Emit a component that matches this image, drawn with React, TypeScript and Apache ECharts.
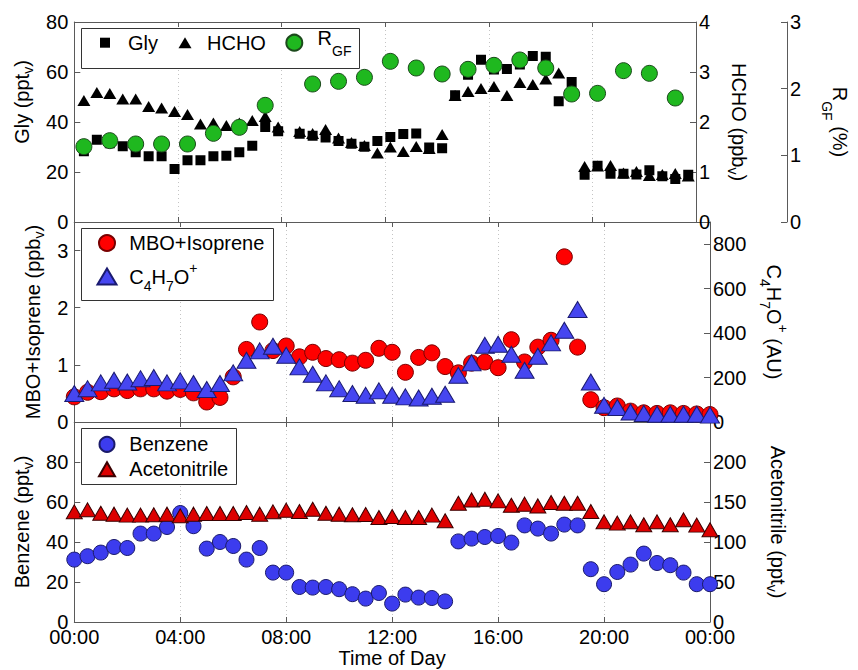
import React, { useEffect, useRef } from 'react';
import * as echarts from 'echarts';

// ---------- data ----------
const xTickHours = [0, 4, 8, 12, 16, 20, 24];

// top panel (Gly squares, HCHO triangles)
const topTimes = [0.37, 0.87, 1.37, 1.87, 2.37, 2.87, 3.37, 3.87, 4.37, 4.87, 5.37, 5.87, 6.37, 6.87, 7.37, 7.87,
  8.7, 9.2, 9.7, 10.2, 10.7, 11.2, 11.7, 12.2, 12.7, 13.2, 13.7, 14.2, 14.7, 15.2, 15.7, 16.2, 16.7, 17.2, 17.7,
  18.2, 18.7, 19.2, 19.7, 20.2, 20.7, 21.2, 21.7, 22.2, 22.7, 23.2, 23.7];
const glyPpt = [28.3, 32.9, 31.5, 30.3, 27.9, 26.3, 26.3, 21.2, 24.7, 24.7, 26.3, 26.5, 27.9, 30.5, 38.0, 36.3,
  35.3, 34.5, 33.8, 32.4, 31.3, 30.1, 32.4, 34.0, 35.2, 35.4, 29.8, 29.5, 50.7, 58.9, 64.9, 61.0, 61.2, 63.0, 66.4,
  66.1, 48.3, 56.0, 18.9, 22.5, 19.3, 19.3, 19.0, 20.7, 18.3, 17.2, 18.9];
const hchoPpb = [2.43, 2.59, 2.57, 2.46, 2.46, 2.31, 2.28, 2.21, 2.15, 1.96, 1.98, 1.93, 1.98, 2.03, 2.11, 1.90,
  1.81, 1.77, 1.85, 1.68, 1.59, 1.53, 1.38, 1.50, 1.41, 1.51, 1.47, 1.75, 2.53, 2.61, 2.67, 2.71, 2.53, 2.79, 2.75,
  2.86, 2.98, 2.62, 1.11, 1.12, 1.13, 0.98, 1.01, 0.93, 0.95, 0.97, 0.92];

// R_GF circles
const rgfTimes = [0.37, 1.37, 2.37, 3.37, 4.37, 5.37, 6.37, 7.37, 9.2, 10.2, 11.2, 12.2, 13.2, 14.2, 15.2, 16.2,
  17.2, 18.2, 19.2, 20.2, 21.2, 22.2, 23.2];
const rgfPct = [1.13, 1.22, 1.17, 1.17, 1.17, 1.33, 1.42, 1.75, 2.07, 2.11, 2.17, 2.41, 2.31, 2.22, 2.29, 2.35,
  2.43, 2.31, 1.92, 1.93, 2.27, 2.23, 1.86];

// middle and bottom panels
const halfHourTimes = [0, 0.5, 1, 1.5, 2, 2.5, 3, 3.5, 4, 4.5, 5, 5.5, 6, 6.5, 7, 7.5, 8, 8.5, 9, 9.5, 10, 10.5,
  11, 11.5, 12, 12.5, 13, 13.5, 14, 14.5, 15, 15.5, 16, 16.5, 17, 17.5, 18, 18.5, 19, 19.5, 20, 20.5, 21, 21.5,
  22, 22.5, 23, 23.5, 24];
const mboIsoprenePpb = [0.44, 0.52, 0.53, 0.58, 0.55, 0.58, 0.58, 0.54, 0.57, 0.51, 0.35, 0.43, 0.79, 1.27, 1.75,
  1.25, 1.33, 1.14, 1.22, 1.11, 1.09, 1.03, 1.08, 1.29, 1.22, 0.87, 1.13, 1.21, 0.97, 0.86, 1.03, 1.05, 0.95, 1.44,
  1.05, 1.31, 1.43, 2.89, 1.31, 0.39, 0.25, 0.28, 0.19, 0.16, 0.15, 0.16, 0.15, 0.14, 0.13];
const c4h7oAU = [128, 150, 176, 188, 180, 195, 200, 176, 185, 173, 146, 173, 221, 278, 320, 341, 300, 248, 215,
  176, 150, 128, 120, 140, 120, 113, 108, 116, 125, 210, 266, 345, 350, 305, 233, 296, 356, 413, 506, 180, 75, 65,
  45, 38, 35, 35, 35, 35, 31];
const benzenePpt = [31.2, 32.9, 34.7, 37.5, 37.0, 44.2, 44.2, 47.5, 54.5, 47.9, 36.7, 40.0, 38.0, 31.2, 37.0,
  24.7, 24.7, 17.5, 17.2, 17.5, 16.4, 13.9, 11.7, 14.5, 9.2, 13.7, 12.2, 12.0, 10.3, 40.3, 41.7, 42.5, 43.0, 39.7,
  48.3, 46.7, 44.2, 48.7, 48.3, 26.4, 18.9, 25.0, 28.7, 34.2, 29.5, 28.4, 24.7, 18.9, 18.9];
const acetonitrilePpt = [137.7, 140.2, 136.0, 134.8, 133.6, 133.6, 134.0, 134.8, 132.7, 134.8, 135.6, 135.6,
  135.6, 136.8, 134.8, 137.7, 139.8, 138.1, 141.0, 136.0, 134.8, 134.0, 134.4, 130.6, 131.8, 130.6, 130.6, 133.6,
  126.5, 148.5, 152.6, 153.4, 151.4, 146.0, 147.3, 145.1, 149.3, 148.5, 148.5, 138.1, 125.2, 123.6, 125.2, 121.5,
  125.2, 121.5, 127.7, 121.1, 115.3];

// ---------- styling ----------
const FONT = '"Liberation Sans", Arial, Helvetica, sans-serif';
const AX = '#5a5a5a';
const TXT = '#000';
const GRID_LEFT = 74.3;
const GRID_RIGHT = 148;
const PANEL_H = 200;
const PANEL_TOPS = [22, 222, 422];

const base = { fontFamily: FONT, color: TXT };
const subRich = {
  a: { ...base, fontSize: 20, height: 20, lineHeight: 26, verticalAlign: 'middle' },
  s: { ...base, fontSize: 14, height: 14, lineHeight: 14, verticalAlign: 'bottom' },
};
const rgfRich = {
  a: { ...base, fontSize: 20, height: 20, lineHeight: 30, verticalAlign: 'top' },
  s: { ...base, fontSize: 14, height: 14, lineHeight: 14, verticalAlign: 'bottom' },
};
const ionRich = {
  a: { ...base, fontSize: 20, height: 20, lineHeight: 32, verticalAlign: 'middle' },
  s: { ...base, fontSize: 14, height: 14, lineHeight: 14, verticalAlign: 'bottom' },
  p: { ...base, fontSize: 14, height: 14, lineHeight: 14, verticalAlign: 'top' },
};

const pair = (xs: number[], ys: number[]) => xs.map((x, i) => [x, ys[i]]);
const hourLabel = (v: number) => {
  const h = v % 24;
  return (h < 10 ? '0' : '') + h + ':00';
};

function makeXAxes(gi: number) {
  const isBottomPanel = gi === 2;
  const common = {
    type: 'value',
    gridIndex: gi,
    min: xTickHours[0],
    max: xTickHours[xTickHours.length - 1],
    interval: xTickHours[1] - xTickHours[0],
    axisLine: { show: true, onZero: false, lineStyle: { color: AX, width: 1 } },
    axisTick: { show: true, inside: true, length: 5, lineStyle: { color: AX } },
  };
  return [
    {
      ...common,
      position: 'bottom',
      axisLabel: {
        show: isBottomPanel,
        formatter: hourLabel,
        margin: 5,
        fontSize: 20,
        fontFamily: FONT,
        color: TXT,
      },
      splitLine: { show: true, lineStyle: { type: [1, 3], color: '#c4c4c4', width: 1 } },
      name: isBottomPanel ? 'Time of Day' : '',
      nameLocation: 'middle',
      nameGap: 25,
      nameTextStyle: { fontSize: 20, fontFamily: FONT, color: TXT },
    },
    {
      ...common,
      position: 'top',
      axisLabel: { show: false },
      splitLine: { show: false },
    },
  ];
}

function makeYAxis(o: any) {
  const right = o.position === 'right';
  return {
    type: 'value',
    gridIndex: o.gridIndex,
    position: o.position,
    offset: o.offset || 0,
    min: o.min,
    max: o.max,
    interval: o.interval,
    axisLine: { show: true, onZero: false, lineStyle: { color: AX, width: 1 } },
    axisTick: { show: true, inside: true, length: 6, lineStyle: { color: AX } },
    splitLine: { show: false },
    axisLabel: {
      margin: right ? 3 : 6,
      fontSize: 20,
      fontFamily: FONT,
      color: TXT,
      formatter: (v: number) => (o.hideMax && v >= o.max ? '' : String(v)),
    },
    name: o.name,
    nameLocation: 'middle',
    nameGap: o.nameGap,
    nameRotate: right ? -90 : 90,
    nameTextStyle: { fontSize: 20, fontFamily: FONT, color: TXT, rich: o.rich, padding: o.namePadding || 0 },
  };
}

// left = left edge of the drawn icon (legend layout aligns the content's bounding box)
function legendItem(o: any) {
  return {
    show: true,
    selectedMode: false,
    orient: 'horizontal',
    left: o.left,
    top: o.top,
    padding: 0,
    itemWidth: o.w,
    itemHeight: o.h,
    data: [{ name: o.name, icon: o.icon }],
    formatter: o.formatter,
    textStyle: { fontSize: 20, fontFamily: FONT, color: TXT, rich: o.rich },
    z: 5,
  };
}

export default function App() {
  const ref = useRef<HTMLDivElement>(null);

  useEffect(() => {
    if (!ref.current) return;
    const chart = echarts.init(ref.current, undefined, { renderer: 'svg' });

    const option: any = {
      animation: false,
      backgroundColor: '#fff',
      grid: PANEL_TOPS.map((t) => ({ left: GRID_LEFT, right: GRID_RIGHT, top: t, height: PANEL_H })),
      xAxis: [...makeXAxes(0), ...makeXAxes(1), ...makeXAxes(2)],
      yAxis: [
        makeYAxis({ gridIndex: 0, position: 'left', min: 0, max: 80, interval: 20, name: '{a|Gly (ppt}{s|v}{a|)}', nameGap: 39, rich: subRich, namePadding: [0, 0, 0, 40] }),
        makeYAxis({ gridIndex: 0, position: 'right', min: 0, max: 4, interval: 1, name: '{a|HCHO (ppb}{s|v}{a|)}', nameGap: 30, rich: subRich }),
        makeYAxis({ gridIndex: 0, position: 'right', offset: 91, min: 0, max: 3, interval: 1, name: '{a|R}{s|GF}{a| (%)}', nameGap: 33, rich: rgfRich }),
        makeYAxis({ gridIndex: 1, position: 'left', min: 0, max: 3.5, interval: 1, hideMax: true, name: '{a|MBO+Isoprene (ppb}{s|v}{a|)}', nameGap: 27, rich: subRich }),
        makeYAxis({ gridIndex: 1, position: 'right', min: 0, max: 900, interval: 200, hideMax: true, name: '{a|C}{s|4}{a|H}{s|7}{a|O}{p|+}{a| (AU)}', nameGap: 48, rich: ionRich }),
        makeYAxis({ gridIndex: 2, position: 'left', min: 0, max: 100, interval: 20, hideMax: true, name: '{a|Benzene (ppt}{s|v}{a|)}', nameGap: 38, rich: subRich }),
        makeYAxis({ gridIndex: 2, position: 'right', min: 0, max: 250, interval: 50, hideMax: true, name: '{a|Acetonitrile (ppt}{s|v}{a|)}', nameGap: 55, rich: subRich }),
      ],
      legend: [
        legendItem({ name: 'Gly', icon: 'path://M0,0H10V10H0Z', left: 100, top: 32.7, w: 36, h: 10 }),
        legendItem({ name: 'HCHO', icon: 'path://M6.5,0L13,11H0Z', left: 178.5, top: 32.7, w: 34, h: 11 }),
        legendItem({ name: 'RGF', icon: 'circle', left: 285.3, top: 27.7, w: 36.6, h: 16, formatter: () => '{a|R}{s|GF}', rich: rgfRich }),
        legendItem({ name: 'MBO+Isoprene', icon: 'circle', left: 98, top: 233, w: 34.6, h: 16 }),
        legendItem({ name: 'C4H7O+', icon: 'path://M9.5,0L19,16H0Z', left: 96.5, top: 260.5, w: 34.6, h: 16, formatter: () => '{a|C}{s|4}{a|H}{s|7}{a|O}{p|+}', rich: ionRich }),
        legendItem({ name: 'Benzene', icon: 'circle', left: 98.5, top: 434.3, w: 34.6, h: 15 }),
        legendItem({ name: 'Acetonitrile', icon: 'path://M8,0L16,14H0Z', left: 98, top: 459.3, w: 34.6, h: 14 }),
      ],
      graphic: [
        { type: 'rect', z: 3, shape: { x: 81.5, y: 28.5, width: 278, height: 40 }, style: { fill: '#fff', stroke: '#333', lineWidth: 1 } },
        { type: 'rect', z: 3, shape: { x: 81.5, y: 228.5, width: 192, height: 72 }, style: { fill: '#fff', stroke: '#333', lineWidth: 1 } },
        { type: 'rect', z: 3, shape: { x: 81.5, y: 428.5, width: 155, height: 56 }, style: { fill: '#fff', stroke: '#333', lineWidth: 1 } },
      ],
      series: [
        {
          name: 'Gly', type: 'scatter', xAxisIndex: 0, yAxisIndex: 0, clip: false,
          data: pair(topTimes, glyPpt), symbol: 'rect', symbolSize: 10,
          itemStyle: { color: '#000', opacity: 1 },
        },
        {
          name: 'HCHO', type: 'scatter', xAxisIndex: 0, yAxisIndex: 1, clip: false,
          data: pair(topTimes, hchoPpb), symbol: 'triangle', symbolSize: [13, 11],
          itemStyle: { color: '#000', opacity: 1 },
        },
        {
          name: 'RGF', type: 'scatter', xAxisIndex: 0, yAxisIndex: 2, clip: false,
          data: pair(rgfTimes, rgfPct), symbol: 'circle', symbolSize: 16,
          itemStyle: { color: '#1fb81f', borderColor: '#1c4a1c', borderWidth: 1, opacity: 1 },
        },
        {
          name: 'MBO+Isoprene', type: 'scatter', xAxisIndex: 2, yAxisIndex: 3, clip: false,
          data: pair(halfHourTimes, mboIsoprenePpb), symbol: 'circle', symbolSize: 16,
          itemStyle: { color: '#ff0000', borderColor: '#7a0000', borderWidth: 1, opacity: 1 },
        },
        {
          name: 'C4H7O+', type: 'scatter', xAxisIndex: 2, yAxisIndex: 4, clip: false,
          data: pair(halfHourTimes, c4h7oAU), symbol: 'triangle', symbolSize: [19, 16],
          itemStyle: { color: '#4646f0', borderColor: '#1a1a70', borderWidth: 1, opacity: 1 },
        },
        {
          name: 'Benzene', type: 'scatter', xAxisIndex: 4, yAxisIndex: 5, clip: false,
          data: pair(halfHourTimes, benzenePpt), symbol: 'circle', symbolSize: 15,
          itemStyle: { color: '#3c3cee', borderColor: '#1a1a6a', borderWidth: 1, opacity: 1 },
        },
        {
          name: 'Acetonitrile', type: 'scatter', xAxisIndex: 4, yAxisIndex: 6, clip: false,
          data: pair(halfHourTimes, acetonitrilePpt), symbol: 'triangle', symbolSize: [16, 14],
          itemStyle: { color: '#dd0000', borderColor: '#3a0000', borderWidth: 1, opacity: 1 },
        },
      ],
    };

    chart.setOption(option);
    return () => chart.dispose();
  }, []);

  return (
    <div
      ref={ref}
      style={{ position: 'absolute', left: 0, top: 0, width: 858, height: 670, background: '#fff' }}
    />
  );
}
